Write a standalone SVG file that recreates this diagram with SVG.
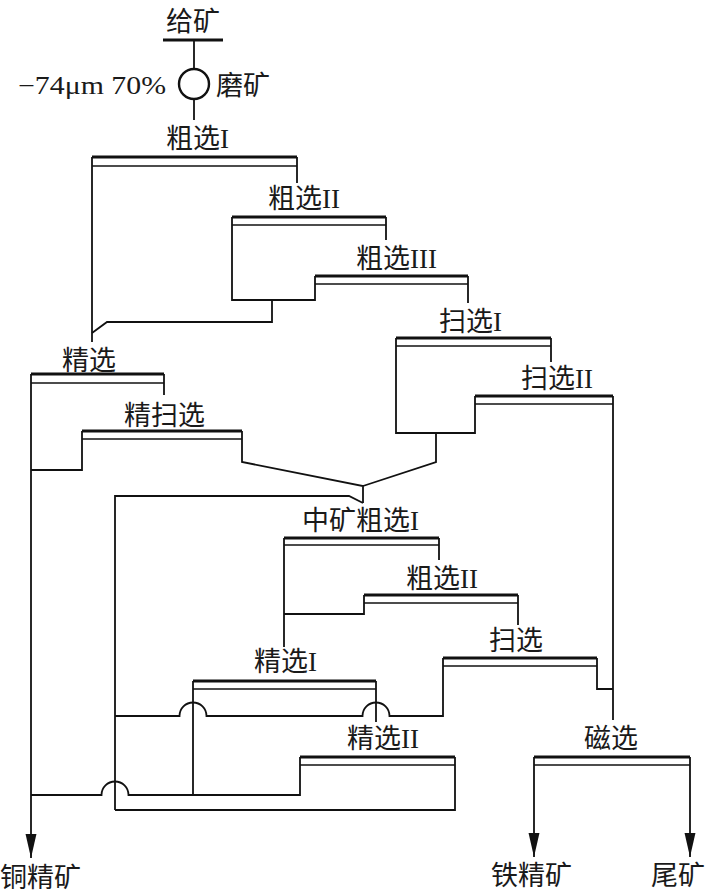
<svg xmlns="http://www.w3.org/2000/svg" width="723" height="894" viewBox="0 0 723 894">
<style>
.t{font-family:"Noto Sans CJK SC","Noto Sans",sans-serif;font-size:27px;fill:#1a1a1a}
.r{font-family:"Liberation Serif",serif;font-size:27px}
.bar{stroke:#111;stroke-width:3;fill:none}
.bar2{stroke:#111;stroke-width:1.6;fill:none}
.c{stroke:#111;stroke-width:1.8;fill:none;stroke-linejoin:miter}
</style>
<defs>
<marker id="ah" markerWidth="24" markerHeight="12" refX="22" refY="5" orient="auto" markerUnits="userSpaceOnUse" viewBox="0 0 22 10">
<path d="M0,0 L22,5 L0,10 Z" fill="#111"/>
</marker>
</defs>
<rect width="723" height="894" fill="#fff"/>

<g id="feed">
<text class="t" x="166" y="31">给矿</text>
<path class="bar" d="M163,40 H223"/>
</g>
<g id="grinding">
<circle cx="194" cy="84" r="15" fill="none" stroke="#111" stroke-width="2.4"/>
<text x="18" y="94" style="font-family:'Liberation Serif',serif;font-size:25px;fill:#1a1a1a" textLength="148" lengthAdjust="spacingAndGlyphs">−74μm 70%</text>
<text class="t" x="216" y="95">磨矿</text>
</g>
<g id="rough1">
<text class="t" x="166" y="148">粗选<tspan class="r">I</tspan></text>
<path class="bar" d="M92,157 H297"/><path class="bar2" d="M92,166 H297"/>
</g>
<g id="rough2">
<text class="t" x="268" y="208">粗选<tspan class="r">II</tspan></text>
<path class="bar" d="M232,217 H386"/><path class="bar2" d="M232,225 H386"/>
</g>
<g id="rough3">
<text class="t" x="356" y="268">粗选<tspan class="r">III</tspan></text>
<path class="bar" d="M315,276 H468"/><path class="bar2" d="M315,284 H468"/>
</g>
<g id="scav1">
<text class="t" x="439" y="331">扫选<tspan class="r">I</tspan></text>
<path class="bar" d="M396,338 H551"/><path class="bar2" d="M396,346 H551"/>
</g>
<g id="scav2">
<text class="t" x="521" y="388">扫选<tspan class="r">II</tspan></text>
<path class="bar" d="M475,396 H613"/><path class="bar2" d="M475,404 H613"/>
</g>
<g id="clean">
<text class="t" x="62" y="370">精选</text>
<path class="bar" d="M31,374 H164"/><path class="bar2" d="M31,383 H164"/>
</g>
<g id="cleanscav">
<text class="t" x="124" y="425">精扫选</text>
<path class="bar" d="M82,431 H242"/><path class="bar2" d="M82,439 H242"/>
</g>
<g id="mid-rough1">
<text class="t" x="302" y="530">中矿粗选<tspan class="r">I</tspan></text>
<path class="bar" d="M284,538 H439"/><path class="bar2" d="M284,545 H439"/>
</g>
<g id="mid-rough2">
<text class="t" x="406" y="588">粗选<tspan class="r">II</tspan></text>
<path class="bar" d="M364,595 H518"/><path class="bar2" d="M364,603 H518"/>
</g>
<g id="mid-scav">
<text class="t" x="489" y="650">扫选</text>
<path class="bar" d="M443,658 H597"/><path class="bar2" d="M443,666 H597"/>
</g>
<g id="mid-clean1">
<text class="t" x="254" y="671">精选<tspan class="r">I</tspan></text>
<path class="bar" d="M193,681 H376"/><path class="bar2" d="M193,689 H376"/>
</g>
<g id="mid-clean2">
<text class="t" x="347" y="748">精选<tspan class="r">II</tspan></text>
<path class="bar" d="M300,757 H455"/><path class="bar2" d="M300,765 H455"/>
</g>
<g id="magnetic">
<text class="t" x="584" y="748">磁选</text>
<path class="bar" d="M534,757 H690"/><path class="bar2" d="M534,765 H690"/>
</g>
<g id="cu-conc"><text class="t" x="0" y="887">铜精矿</text></g>
<g id="fe-conc"><text class="t" x="491" y="885">铁精矿</text></g>
<g id="tailings"><text class="t" x="651" y="885">尾矿</text></g>

<g id="connectors">
<path class="c" d="M194,40 V69"/>
<path class="c" d="M194,99 V120"/>
<path class="c" d="M297,157 V183"/>
<path class="c" d="M92,157 V342"/>
<path class="c" d="M386,217 V240"/>
<path class="c" d="M232,217 V300 H315 V276"/>
<path class="c" d="M272,300 V322 H107 L92,333"/>
<path class="c" d="M468,276 V303"/>
<path class="c" d="M551,338 V362"/>
<path class="c" d="M396,338 V433 H475 V396"/>
<path class="c" d="M436,433 V462 L363,486"/>
<path class="c" d="M613,396 V720"/>
<path class="c" d="M164,374 V395"/>
<path class="c" d="M31,374 V858" marker-end="url(#ah)"/>
<path class="c" d="M82,431 V470 H31"/>
<path class="c" d="M242,431 V462 L363,486 V503"/>
<path class="c" d="M115,810 V496 H349 L363,503"/>
<path class="c" d="M439,538 V560"/>
<path class="c" d="M284,538 V647"/>
<path class="c" d="M284,614 H364 V595"/>
<path class="c" d="M518,595 V625"/>
<path class="c" d="M597,658 V689 H613"/>
<path class="c" d="M443,658 V716 H389.5 A13.5,13.5 0 0 0 362.5,716 H206.5 A13.5,13.5 0 0 0 179.5,716 H115"/>
<path class="c" d="M376,681 V722"/>
<path class="c" d="M193,681 V795"/>
<path class="c" d="M455,757 V810 H115"/>
<path class="c" d="M300,757 V795 H128.5 A13.5,13.5 0 0 0 101.5,795 H31"/>
<path class="c" d="M534,757 V857" marker-end="url(#ah)"/>
<path class="c" d="M690,757 V857" marker-end="url(#ah)"/>
</g>
</svg>
